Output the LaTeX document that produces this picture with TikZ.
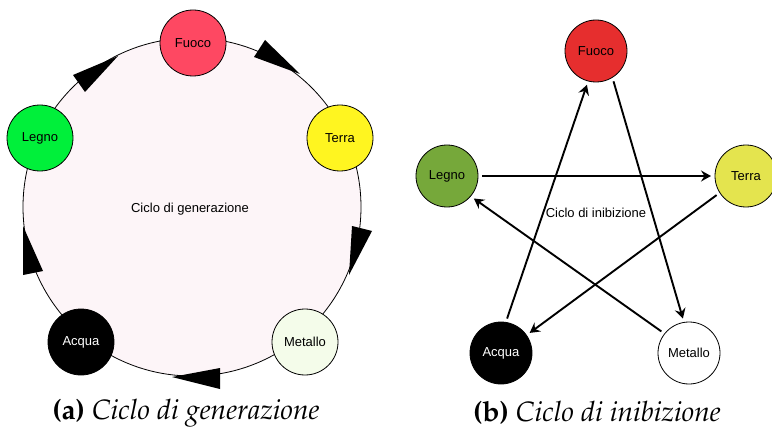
\documentclass[tikz,border=0pt]{standalone}
\usepackage[T1,TU]{fontenc}
\usepackage{fontspec}
\setsansfont{Liberation Sans}
\usetikzlibrary{arrows.meta}
\definecolor{ringfill}{RGB}{253,245,248}
\definecolor{fuocoA}{RGB}{254,72,98}
\definecolor{legnoA}{RGB}{0,240,58}
\definecolor{terraA}{RGB}{255,245,32}
\definecolor{metalloA}{RGB}{244,252,234}
\definecolor{fuocoB}{RGB}{230,46,46}
\definecolor{legnoB}{RGB}{118,168,58}
\definecolor{terraB}{RGB}{228,228,78}
\begin{document}
\begin{tikzpicture}[x=1pt,y=1pt,
  lbl/.style={font=\sffamily\fontsize{13}{15}\selectfont},
  elemA/.style={circle, draw=black, line width=0.8pt, minimum size=66pt, inner sep=0pt, lbl},
  elemB/.style={circle, draw=black, line width=0.8pt, minimum size=62pt, inner sep=0pt, outer sep=4pt, lbl},
  arr/.style={line width=1.9pt, -{Stealth[length=10pt,width=11pt,inset=3.5pt]}},
  captxt/.style={font=\fontencoding{T1}\fontfamily{ppl}\fontsize{28}{32}\selectfont},
]
\useasboundingbox (0,0) rectangle (772,432);
% ---- (a) generation cycle ----
\node[circle, draw=black, line width=0.8pt, fill=ringfill, minimum size=338pt, inner sep=0pt] (ring) at (192,225) {};
\node[lbl] (gentxt) at (190,223) {Ciclo di generazione};
\node[elemA, fill=fuocoA] (fa) at (193,389) {Fuoco};
\node[elemA, fill=legnoA] (la) at (40,294) {Legno};
\node[elemA, fill=terraA] (ta) at (340,294) {Terra};
\node[elemA, fill=black, text=white] (aa) at (81,90) {Acqua};
\node[elemA, fill=metalloA] (ma) at (305,90) {Metallo};
\fill (73,357) -- (85,340) -- (118,376) -- cycle;
\fill (254,375) -- (265,392) -- (300,358) -- cycle;
\fill (352,206) -- (372,201) -- (349,157) -- cycle;
\fill (220,64) -- (220,43) -- (172,55) -- cycle;
\fill (23,157) -- (43,161) -- (23,206) -- cycle;
\node[captxt] (capa) at (186,19) {\textbf{(a)} \textit{Ciclo di generazione}};
% ---- (b) inhibition cycle ----
\node[lbl] (inibtxt) at (596,219) {Ciclo di inibizione};
\node[elemB, fill=fuocoB] (fb) at (596,381) {Fuoco};
\node[elemB, fill=legnoB] (lb) at (447,256) {Legno};
\node[elemB, fill=terraB] (tb) at (746,256) {Terra};
\node[elemB, fill=black, text=white] (ab) at (501,79) {Acqua};
\node[elemB, fill=white] (mb) at (689,79) {Metallo};
\draw[arr] (lb.0) -- (tb.180);
\draw[arr] (fb.300) -- (mb.100);
\draw[arr] (mb.142) -- (lb.320);
\draw[arr] (tb.213) -- (ab.35);
\draw[arr] (ab.80) -- (fb.255);
\node[captxt] (capb) at (597,19) {\textbf{(b)} \textit{Ciclo di inibizione}};
\end{tikzpicture}
\end{document}
